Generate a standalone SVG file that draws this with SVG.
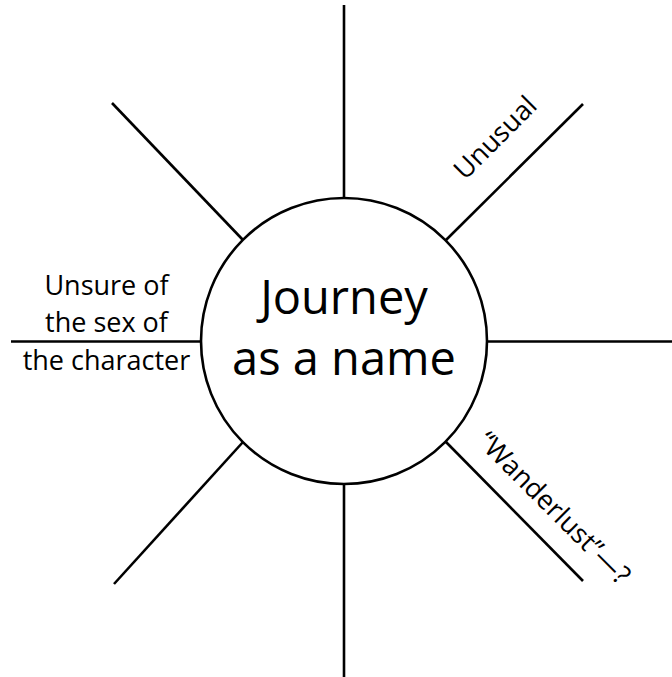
<svg xmlns="http://www.w3.org/2000/svg" width="672" height="677" viewBox="0 0 672 677">
<style>
.ln{stroke:#000;stroke-width:2.6;fill:none;stroke-linecap:butt}
.lbl{font-family:"Open Sans","Noto Sans","Liberation Sans",sans-serif;font-size:27px;fill:#000}
.big{font-family:"Open Sans","Noto Sans","Liberation Sans",sans-serif;font-size:47px;fill:#000;text-anchor:middle}
</style>
<rect width="672" height="677" fill="#fff"/>
<g id="connectors">
<line class="ln" x1="344" y1="5" x2="344" y2="198"/>
<line class="ln" x1="344" y1="484" x2="344" y2="677"/>
<line class="ln" x1="11" y1="341.5" x2="201" y2="341.5"/>
<line class="ln" x1="487" y1="341.5" x2="672" y2="341.5"/>
<line class="ln" x1="112" y1="103" x2="243" y2="240"/>
<line class="ln" x1="446" y1="240" x2="583" y2="104"/>
<line class="ln" x1="243" y1="442" x2="114" y2="584"/>
<line class="ln" x1="446" y1="442" x2="583" y2="581"/>
</g>
<g id="center">
<circle class="ln" cx="344" cy="341" r="143"/>
<text class="big" x="344" y="314">Journey</text>
<text class="big" x="344" y="375">as a name</text>
</g>
<g id="label-unusual">
<text class="lbl" transform="translate(465,181) rotate(-45)">Unusual</text>
</g>
<g id="label-unsure">
<text class="lbl" text-anchor="middle" x="106.5" y="295">Unsure of</text>
<text class="lbl" text-anchor="middle" x="106.5" y="332">the sex of</text>
<text class="lbl" text-anchor="middle" x="106.5" y="370">the character</text>
</g>
<g id="label-wanderlust">
<text class="lbl" transform="translate(476,443) rotate(45)">“Wanderlust”—?</text>
</g>
</svg>
